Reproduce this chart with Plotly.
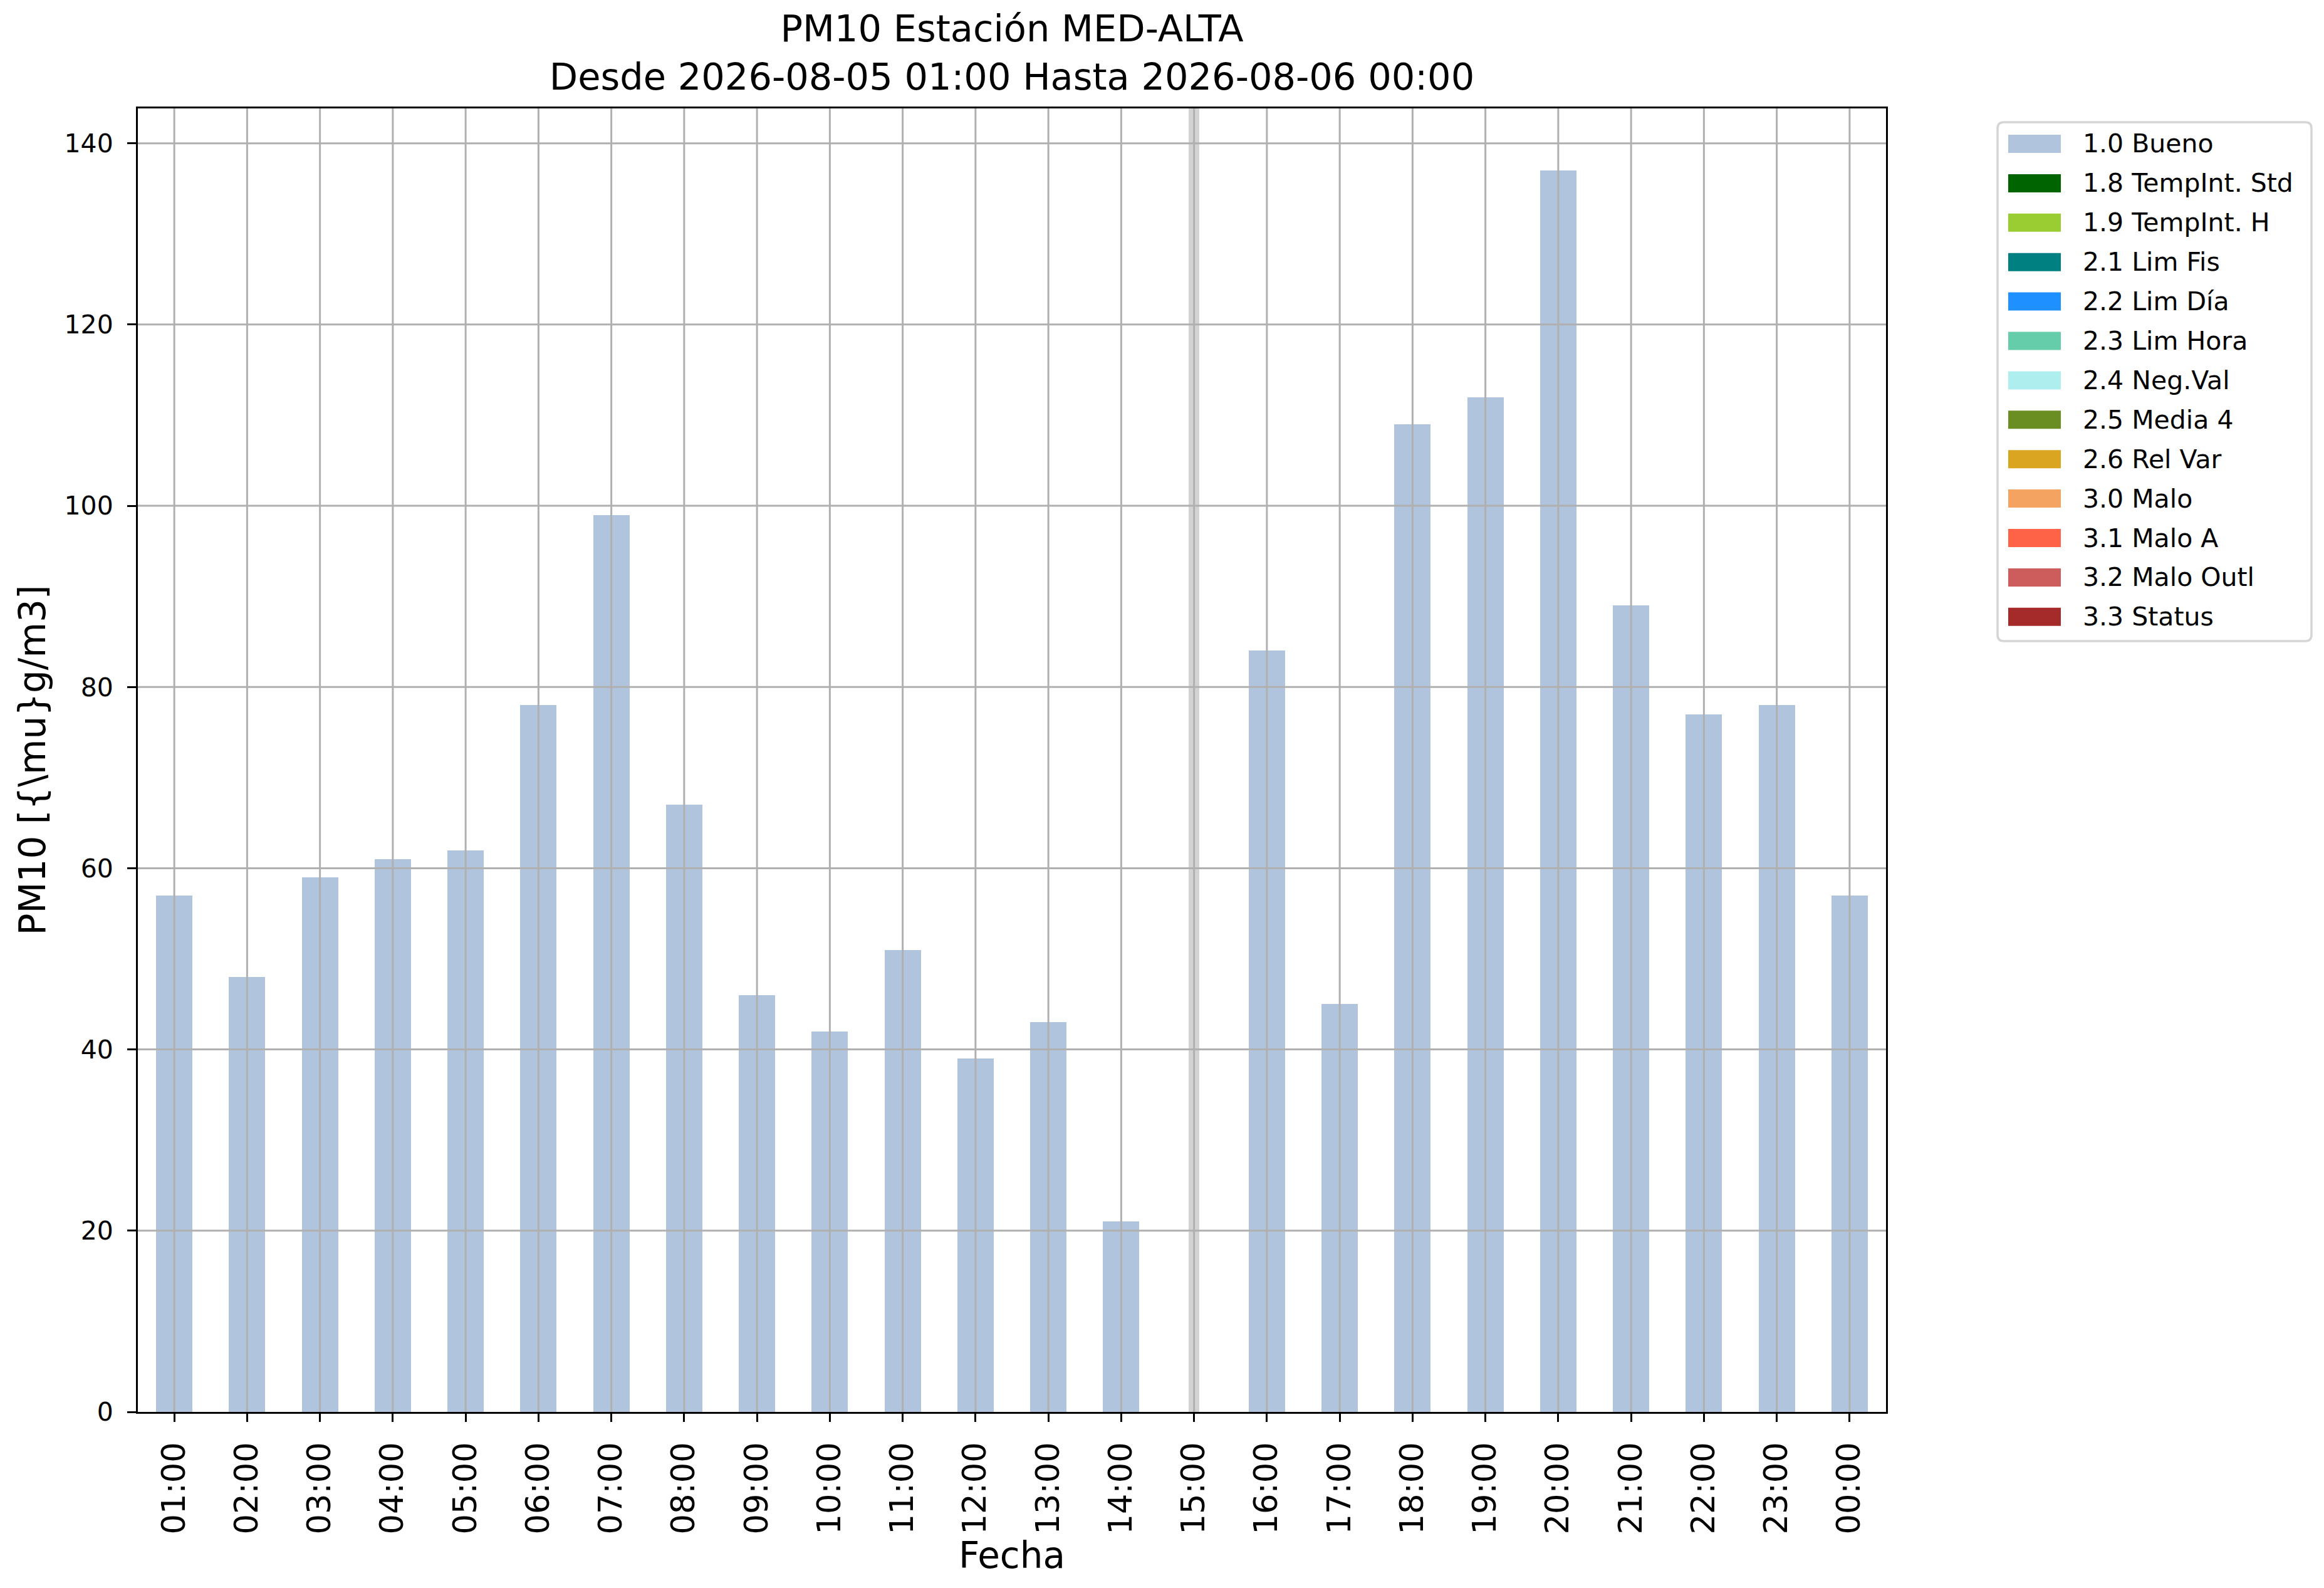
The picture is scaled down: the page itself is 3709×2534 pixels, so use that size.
import plotly.graph_objects as go

# datos horarios PM10, estación MED-ALTA
horas = ["01:00", "02:00", "03:00", "04:00", "05:00", "06:00", "07:00", "08:00",
         "09:00", "10:00", "11:00", "12:00", "13:00", "14:00", "15:00", "16:00",
         "17:00", "18:00", "19:00", "20:00", "21:00", "22:00", "23:00", "00:00"]
pm10 = [57, 48, 59, 61, 62, 78, 99, 67, 46, 42, 51, 39, 43, 21, None, 84,
        45, 109, 112, 137, 89, 77, 78, 57]
sin_dato = ["15:00"]  # hora sin medición, marcada en gris

banderas = ["1.0 Bueno", "1.8 TempInt. Std", "1.9 TempInt. H", "2.1 Lim Fis",
            "2.2 Lim Día", "2.3 Lim Hora", "2.4 Neg.Val", "2.5 Media 4",
            "2.6 Rel Var", "3.0 Malo", "3.1 Malo A", "3.2 Malo Outl", "3.3 Status"]
colores = ["#b0c4de", "#006400", "#9acd32", "#008080", "#1e90ff", "#66cdaa",
           "#afeeee", "#6b8e23", "#daa520", "#f4a460", "#ff6347", "#cd5c5c", "#a52a2a"]

yticks = [0, 20, 40, 60, 80, 100, 120, 140]

FONT = "DejaVu Sans"
W, H = 3709, 2534
L, R, T, B = 212, 3002, 165, 2245
GRID = "#b0b0b0"


def px_x(px):
    return (px - L) / (R - L)


def px_y(py):
    return (B - py) / (B - T)


y_top = max(v for v in pm10 if v is not None) * 1.05

fig = go.Figure()

fig.add_trace(go.Bar(
    x=horas, y=pm10, width=0.5, name=banderas[0],
    marker=dict(color=colores[0], line=dict(width=0)), showlegend=False,
))
fig.add_trace(go.Bar(
    x=sin_dato, y=[y_top] * len(sin_dato), width=0.14, name="sin dato",
    marker=dict(color="#d3d3d3", line=dict(width=0)), showlegend=False,
))

# rejilla por encima de las barras (como en el original)
for h in horas:
    fig.add_shape(type="line", xref="x", yref="paper", x0=h, x1=h, y0=0, y1=1,
                  layer="above", line=dict(color=GRID, width=3))
for v in yticks[1:]:
    fig.add_shape(type="line", xref="paper", yref="y", x0=0, x1=1, y0=v, y1=v,
                  layer="above", line=dict(color=GRID, width=3))

# leyenda dibujada a mano (cuadros anchos como en matplotlib)
bx0, by0, bx1, by1, rad = 3180, 187, 3681, 1015, 10
x0, x1 = px_x(bx0), px_x(bx1)
y0, y1 = px_y(by0), px_y(by1)
rx = rad / (R - L)
ry = rad / (B - T)
path = (f"M{x0 + rx},{y0} L{x1 - rx},{y0} Q{x1},{y0} {x1},{y0 - ry} "
        f"L{x1},{y1 + ry} Q{x1},{y1} {x1 - rx},{y1} L{x0 + rx},{y1} "
        f"Q{x0},{y1} {x0},{y1 + ry} L{x0},{y0 - ry} Q{x0},{y0} {x0 + rx},{y0} Z")
fig.add_shape(type="path", xref="paper", yref="paper", path=path,
              fillcolor="white", line=dict(color="#d5d5d5", width=3.5), layer="above")

row0, step = 221.5, 62.9
for i, (lab, col) in enumerate(zip(banderas, colores)):
    cy = row0 + i * step
    fig.add_shape(type="rect", xref="paper", yref="paper",
                  x0=px_x(3197), x1=px_x(3281), y0=px_y(cy - 14.5), y1=px_y(cy + 14.5),
                  fillcolor=col, line=dict(width=0), layer="above")
    fig.add_annotation(x=px_x(3314), y=px_y(cy), xref="paper", yref="paper",
                       text=lab, showarrow=False, xanchor="left", yanchor="middle",
                       font=dict(family=FONT, size=41, color="black"))

fig.update_layout(
    width=W, height=H,
    margin=dict(l=L, r=W - R, t=T, b=H - B, pad=0),
    paper_bgcolor="white", plot_bgcolor="white",
    barmode="overlay", bargap=0,
    font=dict(family=FONT, color="black"),
    title=dict(
        text="PM10 Estación MED-ALTA<br>Desde 2026-08-05 01:00 Hasta 2026-08-06 00:00",
        x=0.5, xref="paper", xanchor="center",
        y=1 - 58 / H, yref="container", yanchor="middle",
        font=dict(family=FONT, size=59, color="black"),
    ),
    showlegend=False,
)

fig.update_xaxes(
    type="category", categoryorder="array", categoryarray=horas,
    range=[-0.5, len(horas) - 0.5],
    showgrid=False, zeroline=False,
    showline=True, mirror=True, linecolor="black", linewidth=3,
    ticks="outside", ticklen=13, tickwidth=3, tickcolor="black",
    tickangle=-90, tickfont=dict(family=FONT, size=51, color="black"),
    ticklabelstandoff=12, automargin=False,
    title=dict(text="Fecha", font=dict(family=FONT, size=58, color="black"), standoff=0),
)
fig.update_yaxes(
    range=[0, y_top], tickvals=yticks,
    showgrid=False, zeroline=False,
    showline=True, mirror=True, linecolor="black", linewidth=3,
    ticks="outside", ticklen=14, tickwidth=3, tickcolor="black",
    tickfont=dict(family=FONT, size=41, color="black"),
    ticklabelstandoff=14, automargin=False,
    title=dict(text="PM10 [{\\mu}g/m3]", font=dict(family=FONT, size=58, color="black"),
               standoff=12),
)

fig.write_html("out.html")
